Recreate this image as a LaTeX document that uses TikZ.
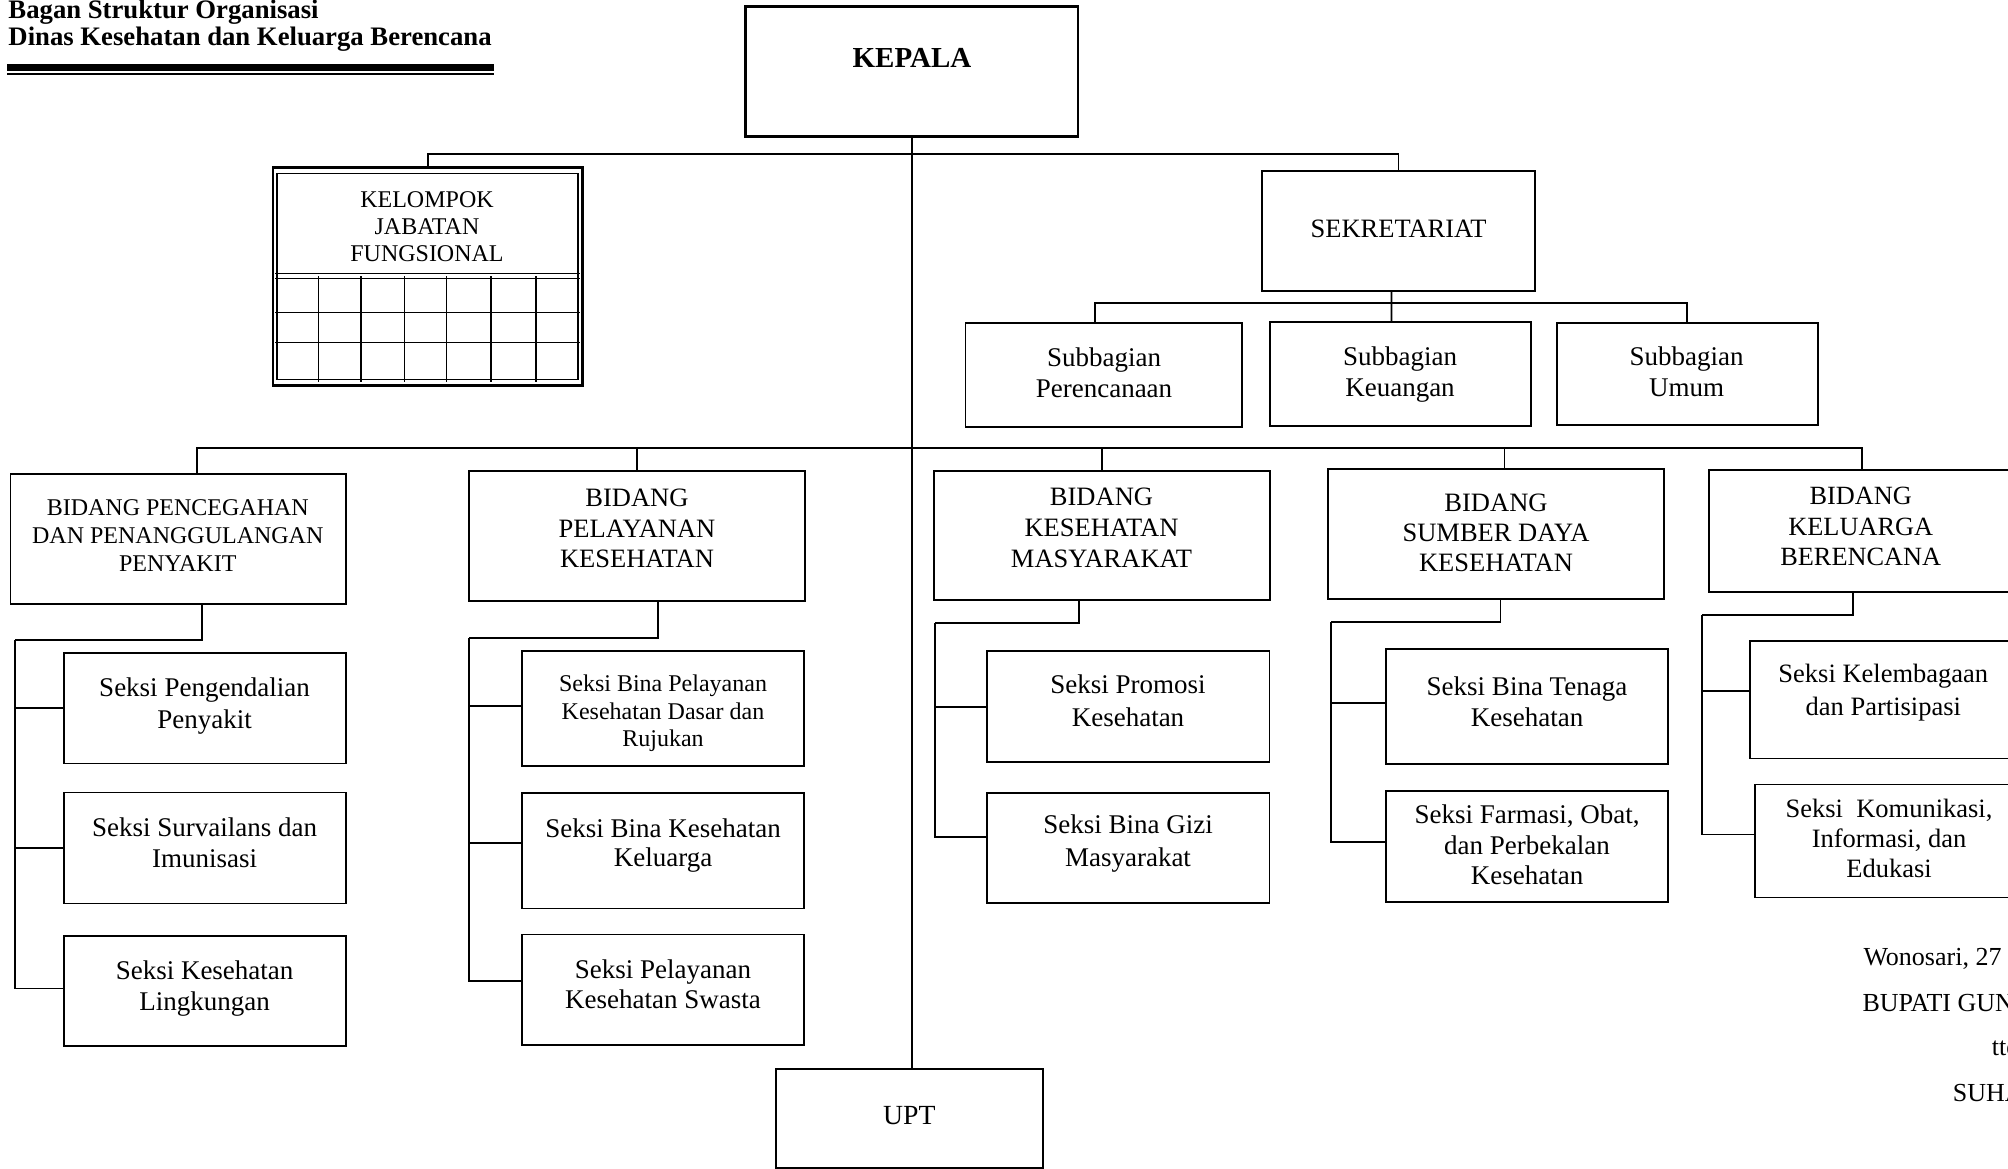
\documentclass[tikz,border=0pt]{standalone}
\usepackage{fontspec}
\setmainfont{Liberation Serif}
\tikzset{
  box/.style={draw, line width=1.8pt, inner sep=0pt, rectangle},
  txt/.style={anchor=north, align=center, inner sep=0pt},
  one/.style={anchor=base, inner sep=0pt},
  conn/.style={line width=1.8pt},
  grid line/.style={line width=1.5pt}
}
\newcommand\mkbox[6][]{\node[box,#1,minimum width={#5-#3},minimum height={#6-#4}] (#2) at ({(#3+#5)/2},{(#4+#6)/2}) {};}
\newcommand\mktext[6]{\node[txt,font=\fontsize{#4}{#5}\selectfont] (#1) at (#2,{#3-0.7*#5}) {\strut #6};}
\begin{document}
\begin{tikzpicture}[x=1pt,y=-1pt]
\useasboundingbox (0,0) rectangle (2008,1169);
\clip (0,0) rectangle (2008,1169);
\fill[white] (0,0) rectangle (2008,1169);

% title
\node[anchor=base west, inner sep=0pt, font=\bfseries\fontsize{26.7}{30}\selectfont] (tA) at (8.3,18.3) {Bagan Struktur Organisasi};
\node[anchor=base west, inner sep=0pt, font=\bfseries\fontsize{26.7}{30}\selectfont] (tB) at (8.3,45.7) {Dinas Kesehatan dan Keluarga Berencana};
\fill (7.3,64.3) rectangle (494,71);
\draw[line width=1.8pt] (7.3,74.3) -- (494,74.3);

% boxes
\mkbox[line width=2.5pt]{kep}{745.7}{6.7}{1078.2}{136.7}
\mkbox[line width=2.5pt]{kjf}{273}{167.3}{582.7}{385.3}
\mkbox{sek}{1262.3}{171}{1534.8}{291}
\mkbox{sp}{965.5}{322.7}{1241.7}{427.3}
\mkbox{sk}{1270}{321.7}{1531}{426}
\mkbox{su}{1556.7}{322.7}{1817.7}{425.3}
\mkbox{b1}{10.5}{474}{345.7}{604.3}
\mkbox{b2}{469}{471.2}{805}{601}
\mkbox{b3}{933.7}{470.7}{1269.9}{600}
\mkbox{b4}{1327.6}{469.3}{1664.3}{599}
\mkbox{b5}{1709}{470}{2015}{591.7}
\mkbox{s11}{63.8}{652.9}{345.7}{763.5}
\mkbox{s12}{63.8}{792.4}{345.7}{903.5}
\mkbox{s13}{63.8}{936}{345.7}{1046.3}
\mkbox{s21}{522}{650.8}{804}{766.2}
\mkbox{s22}{522}{793}{804}{908.4}
\mkbox{s23}{522}{934.5}{804}{1045.2}
\mkbox{s31}{986.7}{651}{1269.4}{762.3}
\mkbox{s32}{986.7}{792.7}{1269.4}{903.3}
\mkbox{s41}{1386.2}{649}{1667.9}{764.3}
\mkbox{s42}{1386.2}{790.7}{1667.9}{901.7}
\mkbox{s51}{1750}{640.7}{2017}{758.5}
\mkbox{s52}{1755}{784.4}{2023}{897.5}
\mkbox{upt}{776}{1069}{1042.7}{1167.7}

% kelompok jabatan fungsional inner frame and grid
\draw[line width=1.5pt] (277,173.3) rectangle (578,379.3);
\foreach \yy in {273.3,278.3,312.3,342.3} \draw[grid line] (275.3,\yy) -- (580.3,\yy);
\foreach \xx in {318.7,361,404.3,446.3,491,536} \draw[grid line] (\xx,276) -- (\xx,381.7);

% connectors
\coordinate (hT) at (912.7,154);
\coordinate (hM) at (912.7,448);
\coordinate (sj) at (1391.5,303.3);
\draw[conn] (kep.south) -- (kep.south |- upt.north);
\draw[conn] (kjf.north) |- (hT) -| (sek.north);
\draw[conn] ([xshift=-7pt]sek.south) -- (sj) -- (sj |- sk.north);
\draw[conn] ([xshift=-8.6pt]sp.north) |- (sj) -| (su.north);
\draw[conn] ([xshift=19.1pt]b1.north) |- (hM) -| (b5.north);
\draw[conn] (b2.north) -- (b2.north |- hM);
\draw[conn] (b3.north) -- (b3.north |- hM);
\draw[conn] ([xshift=8.6pt]b4.north) |- (hM);

\coordinate (c1) at (14.6,640.2);
\draw[conn] ([xshift=23.8pt]b1.south) |- (c1);
\draw[conn] (s11.west) -| (c1);
\draw[conn] (s12.west) -| (c1);
\draw[conn] ([yshift=2.7pt]s13.west) -| (c1);

\coordinate (c2) at (469,638.2);
\draw[conn] ([xshift=21pt]b2.south) |- (c2);
\draw[conn] ([yshift=2.75pt]s21.west) -| (c2);
\draw[conn] ([yshift=7.7pt]s22.west) -| (c2);
\draw[conn] ([yshift=9.25pt]s23.west) -| (c2);

\coordinate (c3) at (934.7,623.3);
\draw[conn] ([xshift=-23.2pt]b3.south) |- (c3);
\draw[conn] (s31.west) -| (c3);
\draw[conn] ([yshift=11.3pt]s32.west) -| (c3);

\coordinate (c4) at (1331,622.3);
\draw[conn] ([xshift=4.5pt]b4.south) |- (c4);
\draw[conn] ([yshift=4pt]s41.west) -| (c4);
\draw[conn] ([yshift=4pt]s42.west) -| (c4);

\coordinate (c5) at (1701.7,615.2);
\draw[conn] ([xshift=-9.3pt]b5.south) |- (c5);
\draw[conn] ([yshift=9pt]s51.west) -| (c5);
\draw[conn] ([yshift=6.5pt]s52.west) -| (c5);

% texts
\node[one, font=\bfseries\fontsize{29}{33}\selectfont] (tkep) at (912,68) {KEPALA};
\mktext{tkjf}{427}{207.3}{24}{27}{KELOMPOK\\JABATAN\\FUNGSIONAL}
\node[one, font=\fontsize{26.5}{31}\selectfont] (tsek) at (1398.6,237) {SEKRETARIAT};
\mktext{tsp}{1104}{366}{27}{31}{Subbagian\\Perencanaan}
\mktext{tsk}{1400}{365.5}{27}{31}{Subbagian\\Keuangan}
\mktext{tsu}{1686.6}{365.5}{27}{31}{Subbagian\\Umum}
\mktext{tb1}{177.8}{515.5}{24}{28}{BIDANG PENCEGAHAN\\DAN PENANGGULANGAN\\PENYAKIT}
\mktext{tb2}{637}{506.7}{26.5}{30.5}{BIDANG\\PELAYANAN\\KESEHATAN}
\mktext{tb3}{1101.5}{505}{26.5}{31}{BIDANG\\KESEHATAN\\MASYARAKAT}
\mktext{tb4}{1496}{511}{26.5}{30.3}{BIDANG\\SUMBER DAYA\\KESEHATAN}
\mktext{tb5}{1860.7}{504.5}{26.3}{30.4}{BIDANG\\KELUARGA\\BERENCANA}
\mktext{ts11}{204.6}{696}{27}{32}{Seksi Pengendalian\\Penyakit}
\mktext{ts12}{204.6}{836}{27}{31}{Seksi Survailans dan\\Imunisasi}
\mktext{ts13}{204.6}{979}{27}{31}{Seksi Kesehatan\\Lingkungan}
\mktext{ts21}{663}{691.5}{24}{27.5}{Seksi Bina Pelayanan\\Kesehatan Dasar dan\\Rujukan}
\mktext{ts22}{663}{837.3}{27}{28.5}{Seksi Bina Kesehatan\\Keluarga}
\mktext{ts23}{663}{978.3}{27}{30}{Seksi Pelayanan\\Kesehatan Swasta}
\mktext{ts31}{1128}{693.3}{27}{32.5}{Seksi Promosi\\Kesehatan}
\mktext{ts32}{1128}{833.3}{27}{33}{Seksi Bina Gizi\\Masyarakat}
\mktext{ts41}{1527}{695}{27}{31.7}{Seksi Bina Tenaga\\Kesehatan}
\mktext{ts42}{1527}{823.3}{27}{30.5}{Seksi Farmasi, Obat,\\dan Perbekalan\\Kesehatan}
\mktext{ts51}{1883.3}{682.1}{26.5}{33}{Seksi Kelembagaan\\dan Partisipasi}
\mktext{ts52}{1889}{817.4}{26.5}{29.7}{Seksi\ \ Komunikasi,\\Informasi, dan\\Edukasi}
\node[one, font=\fontsize{27.7}{32}\selectfont] (tupt) at (909.3,1124) {UPT};

% signature
\node[anchor=base west, inner sep=0pt, font=\fontsize{26}{30}\selectfont] (sg1) at (1863.3,965.9) {Wonosari, 27};
\node[anchor=base west, inner sep=0pt, font=\fontsize{26}{30}\selectfont] (sg2) at (1862.3,1011) {BUPATI GUN};
\node[anchor=base west, inner sep=0pt, font=\fontsize{26}{30}\selectfont] (sg3) at (1991.7,1055.9) {ttd};
\node[anchor=base west, inner sep=0pt, font=\fontsize{26}{30}\selectfont] (sg4) at (1952.7,1101.6) {SUHA};
\end{tikzpicture}
\end{document}
